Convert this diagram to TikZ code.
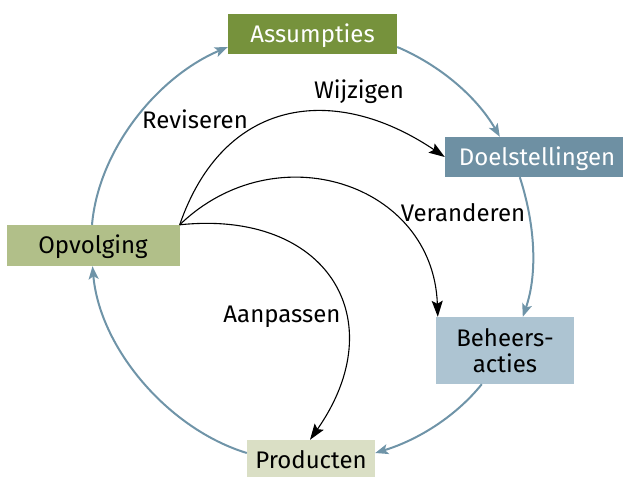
\documentclass[tikz,border=0pt]{standalone}
\usepackage{fontspec}
\setmainfont{Fira Sans}
\usetikzlibrary{arrows.meta,calc}
\definecolor{cAss}{HTML}{76923C}
\definecolor{cDoel}{HTML}{6E90A3}
\definecolor{cBeh}{HTML}{ADC4D2}
\definecolor{cOpv}{HTML}{B1BF89}
\definecolor{cProd}{HTML}{DADFC5}
\definecolor{cFlow}{HTML}{6F94A8}
\begin{document}
\begin{tikzpicture}[x=1pt,y=1pt,
  box/.style={rectangle, inner sep=0pt, text height=16.5pt, text depth=0pt,
    font=\fontsize{24}{26}\selectfont},
  flow/.style={draw=cFlow, line width=2pt, looseness=0.87,
    -{Stealth[length=13pt,width=10pt,inset=3pt]}},
  act/.style={draw=black, line width=1.1pt,
    -{Stealth[length=16pt,width=11pt,inset=3pt]}},
  lbl/.style={font=\fontsize{24}{26}\selectfont, inner sep=0pt, text height=16.5pt, text depth=0pt}]
\useasboundingbox (0,0) rectangle (623,-476);
\node[box, fill=cAss, text=white, minimum width=169pt, minimum height=40pt] (ass) at (312.5,-34) {Assumpties};
\node[box, fill=cDoel, text=white, minimum width=184pt, minimum height=40pt] (doel) at (537,-157) {Doelstellingen};
\node[rectangle, inner sep=0pt, fill=cBeh, minimum width=138pt, minimum height=67pt, align=center,
  font=\fontsize{24}{26}\selectfont] (beh) at (505,-350.5) {Beheers-\\acties};
\node[box, fill=cOpv, minimum width=173pt, minimum height=41pt] (opv) at (93,-245.5) {Opvolging};
\node[box, fill=cProd, minimum width=128pt, minimum height=40pt] (prod) at (311,-460) {Producten};
% outer cycle
\draw[flow] ([yshift=-13pt]ass.east) to[out=-23, in=120] ($(doel.north west)+(55,0)$);
\draw[flow] ($(doel.south west)+(75,0)$) to[out=-72, in=71] ($(beh.north west)+(87,0)$);
\draw[flow] ($(beh.south west)+(46,0)$) to[out=-129, in=17] ([yshift=7pt]prod.east);
\draw[flow] ([yshift=7pt]prod.west) to[out=163, in=-85] ([xshift=-0.5pt]opv.south);
\draw[flow] ([xshift=-1pt]opv.north) to[out=85, in=-157] ([yshift=-13pt]ass.west);
% actions
\draw[act] (opv.north east) to[out=71, in=146, looseness=1.25] (doel.west);
\draw[act] (opv.north east) to[out=44, in=92, looseness=1.25] ($(beh.north west)+(2,0)$);
\draw[act] (opv.north east) to[out=6, in=55, looseness=1.5] ([xshift=-1pt]prod.north);
% labels
\node[lbl] (lw) at (359,-90) {Wijzigen};
\node[lbl] (lr) at (195,-120) {Reviseren};
\node[lbl] (lv) at (463,-213) {Veranderen};
\node[lbl] (la) at (282,-314) {Aanpassen};
\end{tikzpicture}
\end{document}
